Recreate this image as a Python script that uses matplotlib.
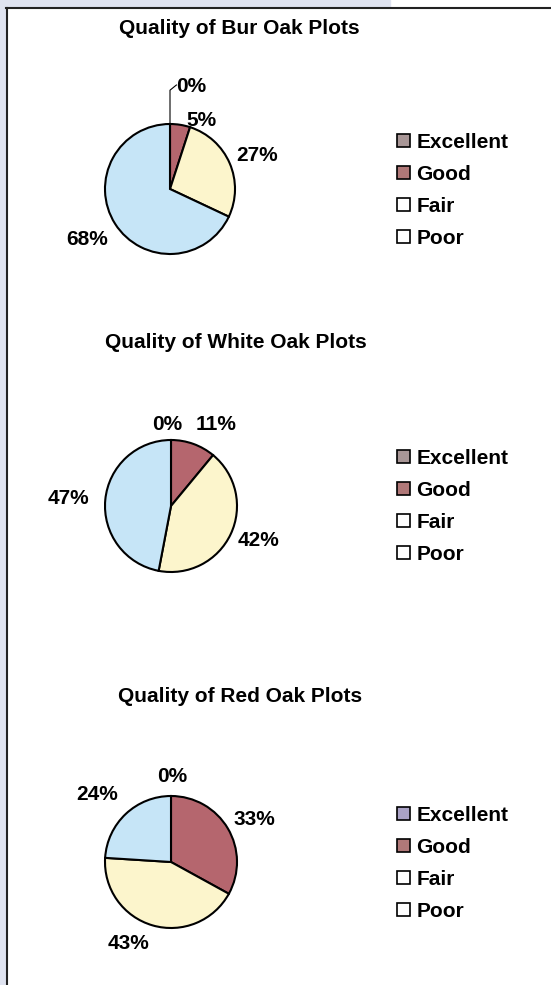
import numpy as np
import matplotlib
matplotlib.use("Agg")
import matplotlib.pyplot as plt
from matplotlib.patches import Patch, Rectangle

plt.rcParams['font.family'] = ['Liberation Sans', 'DejaVu Sans']
plt.rcParams['font.weight'] = 'bold'

categories = ["Excellent", "Good", "Fair", "Poor"]
titles = ["Quality of Bur Oak Plots", "Quality of White Oak Plots", "Quality of Red Oak Plots"]
bur_oak = [0, 5, 27, 68]
white_oak = [0, 11, 42, 47]
red_oak = [0, 33, 43, 24]

slice_colors = ["#a89a9c", "#b5666e", "#fcf5cc", "#c6e5f7"]
legend_colors = [["#a89696", "#b07878", "white", "white"],
                 ["#a89696", "#b07878", "white", "white"],
                 ["#aaa2c6", "#b07878", "white", "white"]]

W, H = 551, 985
fig = plt.figure(figsize=(W / 100, H / 100), dpi=100)
fig.patch.set_facecolor("white")

# frame around the page
fig.patches.append(Rectangle((0, 0), 6 / W, 1, transform=fig.transFigure, color="#dfe3f0", zorder=0))
fig.patches.append(Rectangle((0, 1 - 7 / H), 390 / W, 7 / H, transform=fig.transFigure, color="#dfe3f0", zorder=0))
fig.add_artist(plt.Line2D([6 / W, 1], [1 - 7.5 / H] * 2, color="#222222", lw=1.5, transform=fig.transFigure))
fig.add_artist(plt.Line2D([6.5 / W] * 2, [0, 1 - 7.5 / H], color="#222222", lw=1.5, transform=fig.transFigure))

# layout: pie centre (px), radius (px), title pos, legend top, label offsets (radius units)
layout = [
    dict(c=(170, 189), r=65, title=(239, 28), leg=133,
         lab=[(0.32, 1.57), (0.49, 1.06), (1.34, 0.51), (-1.28, -0.78)]),
    dict(c=(171, 506), r=66, title=(236, 342), leg=449,
         lab=[(-0.06, 1.23), (0.68, 1.23), (1.33, -0.52), (-1.55, 0.11)]),
    dict(c=(171, 862), r=66, title=(240, 697), leg=806,
         lab=[(0.02, 1.29), (1.26, 0.64), (-0.65, -1.23), (-1.12, 1.02)]),
]

for k, values in enumerate([bur_oak, white_oak, red_oak]):
    L = layout[k]
    cx, cy = L["c"]
    half = 128
    ax = fig.add_axes([(cx - half) / W, 1 - (cy + half) / H, 2 * half / W, 2 * half / H])
    rad = L["r"] / 64
    wedges, texts = ax.pie(values, colors=slice_colors, startangle=90, counterclock=False,
                           radius=rad, labels=[f"{v}%" for v in values],
                           wedgeprops=dict(edgecolor="black", linewidth=1.5),
                           textprops=dict(fontsize=15, fontweight="bold"))
    ax.set_xlim(-2, 2)
    ax.set_ylim(-2, 2)
    ax.set_aspect("equal")
    ax.set_axis_off()
    for t, (dx, dy) in zip(texts, L["lab"]):
        t.set_position((dx * rad, dy * rad))
        t.set_ha("center")
        t.set_va("center")
    if k == 0:
        # leader line for the 0% label
        ax.plot([0, 0, 0.1], [rad, 1.52 * rad, 1.6 * rad], color="black", lw=0.8)

    tx, ty = L["title"]
    fig.text(tx / W, 1 - ty / H, titles[k], ha="center", va="center", fontsize=15, fontweight="bold")

    handles = [Patch(facecolor=col, edgecolor="black", linewidth=1.2) for col in legend_colors[k]]
    fig.legend(handles, categories, loc="upper left", bbox_to_anchor=(397 / W, 1 - L["leg"] / H),
               frameon=False, handlelength=0.63, handleheight=0.63,
               handletextpad=0.29, labelspacing=0.62, borderpad=0, borderaxespad=0,
               prop=dict(weight="bold", size=15))

fig.savefig("out.png", dpi=100)
